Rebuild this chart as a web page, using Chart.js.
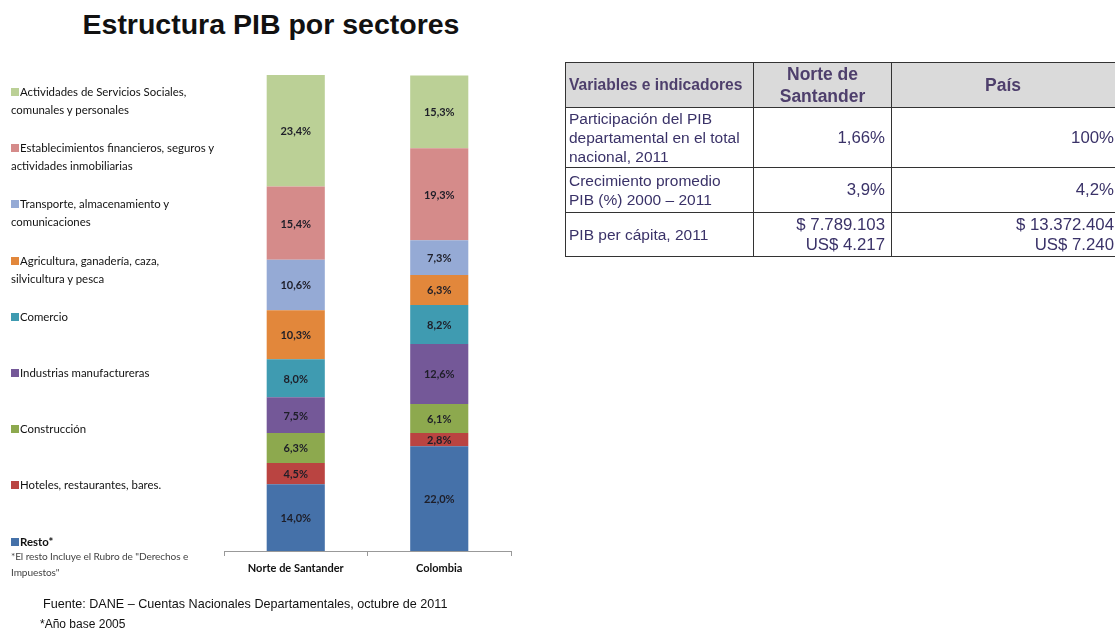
<!DOCTYPE html>
<html>
<head>
<meta charset="utf-8">
<script src="https://cdn.jsdelivr.net/npm/chart.js@4/dist/chart.umd.min.js"></script>
<style>
  html, body { margin:0; padding:0; background:#fff; }
  body { width:1115px; height:628px; position:relative; overflow:hidden; font-family:"Liberation Sans", Arial, sans-serif; }
  #title { position:absolute; left:0; width:542px; top:8px; text-align:center; font-weight:bold; font-size:28.5px; color:#111; }
  #chartWrap { position:absolute; left:0; top:0; width:1115px; height:628px; }
  #legend { position:absolute; left:0; top:0; width:230px; height:600px; font-family:Lato, "Noto Sans", sans-serif; font-size:11.4px; color:#111; }
  .li { position:absolute; left:11px; line-height:18px; white-space:nowrap; }
  .sw { display:inline-block; width:8px; height:8px; margin-right:1px; vertical-align:0px; }
  .li.b { font-weight:bold; }
  #note { position:absolute; left:11px; top:548px; font-family:Lato, "Noto Sans", sans-serif; font-size:10.1px; line-height:16px; color:#444; letter-spacing:-0.1px; }
  #tbl { position:absolute; left:565px; top:62px; width:556px; border-collapse:collapse; font-family:"Liberation Sans", Arial, sans-serif; color:#3a3268; }
  #tbl td, #tbl th { border:1.5px solid #333; padding:0 6px 0 3px; }
  #tbl th { background:#dadada; color:#4e3f6c; font-weight:bold; padding:0 2px; }
  #tbl th.c1 { font-size:15.6px; text-align:left; width:182px; padding-left:3px; }
  #tbl th.c2 { font-size:17.5px; line-height:22px; width:133px; }
  #tbl th.c3 { font-size:17.5px; padding-right:8px; }
  #tbl td { font-size:15.5px; line-height:19px; }
  #tbl td.v { text-align:right; vertical-align:middle; font-size:16.8px; line-height:20px; }
  #foot { position:absolute; left:43px; top:597px; font-size:12.6px; color:#111; }
  #foot2 { position:absolute; left:40px; top:617px; font-size:12px; color:#111; }
</style>
</head>
<body>
<div id="title">Estructura PIB por sectores</div>
<div id="chartWrap"><canvas id="c" width="1115" height="628"></canvas></div>
<div id="legend"></div>
<div id="note">*El resto Incluye el Rubro de "Derechos e<br>Impuestos"</div>
<table id="tbl"></table>
<div id="foot">Fuente: DANE – Cuentas Nacionales Departamentales, octubre de 2011</div>
<div id="foot2">*Año base 2005</div>
<script>
// ---- Chart data ----
const categories = ['Norte de Santander', 'Colombia'];
const sectorNames = [
  ['Resto*'],
  ['Hoteles, restaurantes, bares.'],
  ['Construcción'],
  ['Industrias manufactureras'],
  ['Comercio'],
  ['Agricultura, ganadería, caza,', 'silvicultura y pesca'],
  ['Transporte, almacenamiento y', 'comunicaciones'],
  ['Establecimientos financieros, seguros y', 'actividades inmobiliarias'],
  ['Actividades de Servicios Sociales,', 'comunales y personales']
];
const resto          = [14.0, 22.0];
const hoteles        = [4.5, 2.8];
const construccion   = [6.3, 6.1];
const industrias     = [7.5, 12.6];
const comercio       = [8.0, 8.2];
const agricultura    = [10.3, 6.3];
const transporte     = [10.6, 7.3];
const financieros    = [15.4, 19.3];
const servicios      = [23.4, 15.3];
const seriesValues = [resto, hoteles, construccion, industrias, comercio, agricultura, transporte, financieros, servicios];
const sectorColors = ['#4571A9','#BA4441','#8DA94E','#745898','#3F9BB1','#E2873B','#95AAD5','#D58B8A','#BBD096'];

// ---- Table data ----
const tableHeader = [['Variables e indicadores'], ['Norte de', 'Santander'], ['País']];
const tableRowLabels = [
  ['Participación del PIB', 'departamental en el total', 'nacional, 2011'],
  ['Crecimiento promedio', 'PIB (%) 2000 – 2011'],
  ['PIB per cápita, 2011']
];
const tableNorte = [['1,66%'], ['3,9%'], ['$ 7.789.103', 'US$ 4.217']];
const tablePais  = [['100%'], ['4,2%'], ['$ 13.372.404', 'US$ 7.240']];

// build table
(function(){
  const t = document.getElementById('tbl');
  let h = '<tr style="height:43px"><th class="c1">' + tableHeader[0].join('<br>') + '</th><th class="c2">' + tableHeader[1].join('<br>') + '</th><th class="c3">' + tableHeader[2].join('<br>') + '</th></tr>';
  const rh = [60, 45, 44];
  tableRowLabels.forEach((lab, i) => {
    h += '<tr style="height:' + rh[i] + 'px"><td>' + lab.join('<br>') + '</td><td class="v">' + tableNorte[i].join('<br>') + '</td><td class="v">' + tablePais[i].join('<br>') + '</td></tr>';
  });
  t.innerHTML = h;
})();

// build legend (top item = top of stack)
(function(){
  const lg = document.getElementById('legend');
  const n = sectorNames.length;
  let html = '';
  for (let k = 0; k < n; k++) {
    const i = n - 1 - k;
    const top = 83 + k * 56.2;
    const bold = (i === 0) ? ' b' : '';
    html += '<div class="li' + bold + '" style="top:' + top.toFixed(1) + 'px"><span class="sw" style="background:' + sectorColors[i] + '"></span>' + sectorNames[i].join('<br>') + '</div>';
  }
  lg.innerHTML = html;
})();

const fmt = v => v.toFixed(1).replace('.', ',') + '%';

const valueLabels = {
  id: 'valueLabels',
  afterDatasetsDraw(chart) {
    const ctx = chart.ctx;
    ctx.save();
    ctx.font = 'bold 11px Lato, "Noto Sans", sans-serif';
    ctx.fillStyle = '#1e1e28';
    ctx.textAlign = 'center';
    ctx.textBaseline = 'middle';
    chart.data.datasets.forEach((ds, di) => {
      const meta = chart.getDatasetMeta(di);
      meta.data.forEach((el, j) => {
        const cy = (el.y + el.base) / 2;
        ctx.fillText(fmt(ds.data[j]), el.x, cy + 1);
      });
    });
    ctx.restore();
  }
};

new Chart(document.getElementById('c'), {
  type: 'bar',
  data: {
    labels: categories,
    datasets: seriesValues.map((vals, i) => ({
      label: sectorNames[i].join(' '),
      data: vals,
      backgroundColor: sectorColors[i],
      borderWidth: 0,
      categoryPercentage: 1,
      barPercentage: 0.405
    }))
  },
  options: {
    responsive: false,
    animation: false,
    layout: { padding: { left: 224, right: 604, top: 75, bottom: 49 } },
    plugins: { legend: { display: false }, tooltip: { enabled: false }, title: { display: false } },
    scales: {
      x: {
        stacked: true,
        grid: { display: true, drawOnChartArea: false, drawTicks: true, tickLength: 5, color: '#999', offset: true },
        border: { display: true, color: '#999', width: 1 },
        ticks: { color: '#111', font: { family: 'Lato, "Noto Sans", sans-serif', size: 11, weight: 'bold' }, padding: 6 },
        afterFit: (s) => { s.height = 28; }
      },
      y: {
        stacked: true, display: false, min: 0, max: 100
      }
    }
  },
  plugins: [valueLabels]
});
</script>
</body>
</html>
